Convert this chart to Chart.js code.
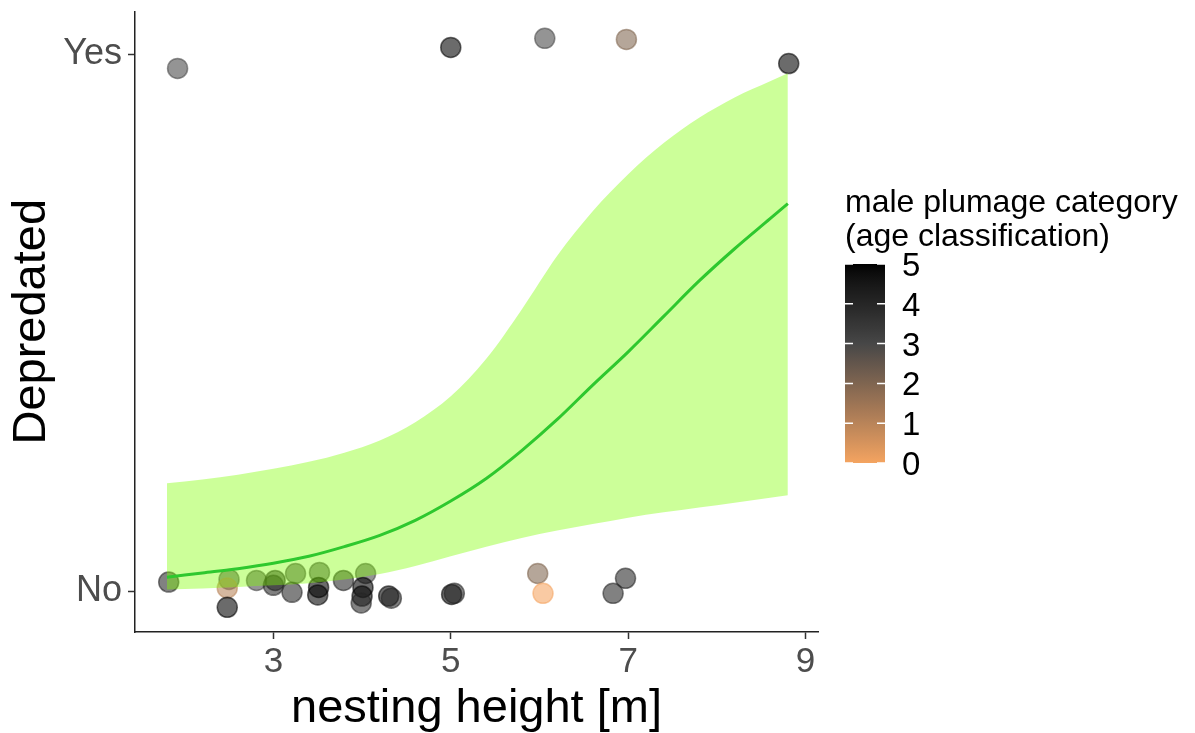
<!DOCTYPE html>
<html>
<head>
<meta charset="utf-8">
<script src="https://cdn.jsdelivr.net/npm/chart.js@4.4.1/dist/chart.umd.min.js"></script>
<style>
  html, body { margin: 0; padding: 0; background: #ffffff; }
  #wrap { width: 1195px; height: 733px; }
</style>
</head>
<body>
<div id="wrap"><canvas id="nestChart" width="1195" height="733"></canvas></div>
<script>
// fitted curve + ribbon
const heightGrid = [1.8, 2.2, 2.6, 3.0, 3.4, 3.8, 4.2, 4.6, 5.0, 5.4, 5.8, 6.2, 6.6, 7.0, 7.4, 7.8, 8.2, 8.6, 8.8];
const fitProb    = [0.026, 0.034, 0.042, 0.052, 0.065, 0.083, 0.104, 0.132, 0.168, 0.210, 0.262, 0.320, 0.384, 0.446, 0.512, 0.578, 0.638, 0.694, 0.722];
const upperProb  = [0.201, 0.208, 0.217, 0.228, 0.241, 0.258, 0.281, 0.315, 0.363, 0.433, 0.525, 0.625, 0.708, 0.777, 0.835, 0.882, 0.920, 0.950, 0.965];
const lowerProb  = [0.003, 0.005, 0.008, 0.011, 0.015, 0.022, 0.032, 0.047, 0.065, 0.083, 0.099, 0.113, 0.125, 0.137, 0.147, 0.156, 0.165, 0.174, 0.179];

// nests (jittered as in the picture)
const nestHeight = [1.82, 2.50, 2.48, 2.48, 2.81, 3.02, 3.00, 3.25, 3.21, 3.52, 3.51, 3.50, 3.79, 4.04, 4.01, 4.00, 3.99, 4.30, 4.33, 5.01, 5.04, 5.98, 6.04, 6.83, 6.97,
                    1.92, 5.00, 6.06, 6.98, 8.81];
const depredated = [0.017, 0.022, 0.006, -0.030, 0.020, 0.020, 0.011, 0.033, -0.002, 0.035, 0.007, -0.007, 0.020, 0.033, 0.007, -0.009, -0.022, -0.009, -0.013, -0.006, -0.004, 0.033, -0.004, -0.004, 0.024,
                    0.974, 1.013, 1.030, 1.028, 0.983];
const plumage    = [4, 3, 1, 5, 3, 4, 4, 3, 4, 3, 5, 5, 4, 3, 5, 5, 4, 5, 4, 5, 4, 2, 0, 4, 4,
                    3, 5, 3, 2, 5];

const xTicks = [3, 5, 7, 9];
const yTicks = [0, 1];
const yTickLabels = ['No', 'Yes'];
const legendTicks = [0, 1, 2, 3, 4, 5];
const legendTitle = ['male plumage category', '(age classification)'];
// colour ramp stops (value -> colour)
const rampValues = [0, 3, 5];
const rampColors = ['#F4A460', '#474747', '#000000'];

const FONT = '"Liberation Sans", Arial, sans-serif';

// interpolate the ramp in Lab like ggplot does
function srgbToLin(c) { c /= 255; return c <= 0.04045 ? c / 12.92 : Math.pow((c + 0.055) / 1.055, 2.4); }
function linToSrgb(c) { c = c <= 0.0031308 ? 12.92 * c : 1.055 * Math.pow(c, 1 / 2.4) - 0.055; return Math.round(Math.min(1, Math.max(0, c)) * 255); }
function hexToLab(hex) {
    let r = srgbToLin(parseInt(hex.slice(1, 3), 16));
    let g = srgbToLin(parseInt(hex.slice(3, 5), 16));
    let b = srgbToLin(parseInt(hex.slice(5, 7), 16));
    let X = (0.4124 * r + 0.3576 * g + 0.1805 * b) / 0.95047;
    let Y = (0.2126 * r + 0.7152 * g + 0.0722 * b);
    let Z = (0.0193 * r + 0.1192 * g + 0.9505 * b) / 1.08883;
    const f = t => t > 0.008856 ? Math.cbrt(t) : 7.787 * t + 16 / 116;
    return [116 * f(Y) - 16, 500 * (f(X) - f(Y)), 200 * (f(Y) - f(Z))];
}
function labToRgb(L, a, b) {
    let fy = (L + 16) / 116, fx = fy + a / 500, fz = fy - b / 200;
    const inv = t => t * t * t > 0.008856 ? t * t * t : (t - 16 / 116) / 7.787;
    let X = inv(fx) * 0.95047, Y = inv(fy), Z = inv(fz) * 1.08883;
    let r = 3.2406 * X - 1.5372 * Y - 0.4986 * Z;
    let g = -0.9689 * X + 1.8758 * Y + 0.0415 * Z;
    let bl = 0.0557 * X - 0.2040 * Y + 1.0570 * Z;
    return [linToSrgb(r), linToSrgb(g), linToSrgb(bl)];
}
const rampLab = rampColors.map(hexToLab);
function plumageColor(v, alpha) {
    let k = 0;
    while (k < rampValues.length - 2 && v > rampValues[k + 1]) k++;
    const t = (v - rampValues[k]) / (rampValues[k + 1] - rampValues[k]);
    const lab = rampLab[k].map((c, i) => c + (rampLab[k + 1][i] - c) * t);
    const rgb = labToRgb(lab[0], lab[1], lab[2]);
    return `rgba(${rgb[0]}, ${rgb[1]}, ${rgb[2]}, ${alpha})`;
}

const nestPoints = nestHeight.map((x, i) => ({ x: x, y: depredated[i] }));
const pointColors = plumage.map(v => plumageColor(v, 0.58));

// legend drawn next to the plot (ggplot colourbar)
const colorbarPlugin = {
    id: 'colorbar',
    afterDraw(chart) {
        const ctx = chart.ctx;
        const left = 845, top = 264, w = 40, h = 199;
        ctx.save();
        ctx.fillStyle = '#000000';
        ctx.font = '32px ' + FONT;
        ctx.textAlign = 'left';
        ctx.textBaseline = 'alphabetic';
        legendTitle.forEach((line, i) => ctx.fillText(line, left, 212 + i * 34));

        const grad = ctx.createLinearGradient(0, top + h, 0, top);
        for (let k = 0; k <= 25; k++) {
            grad.addColorStop(k / 25, plumageColor(5 * k / 25, 1));
        }
        ctx.fillStyle = grad;
        ctx.fillRect(left, top, w, h);

        ctx.strokeStyle = '#ffffff';
        ctx.lineWidth = 1.5;
        ctx.font = '33px ' + FONT;
        ctx.textBaseline = 'middle';
        legendTicks.forEach(v => {
            const y = top + h - v / 5 * h;
            ctx.beginPath();
            ctx.moveTo(left, y); ctx.lineTo(left + 8, y);
            ctx.moveTo(left + w - 8, y); ctx.lineTo(left + w, y);
            ctx.stroke();
            ctx.fillStyle = '#000000';
            ctx.fillText(String(v), 902, y + 3);
        });
        ctx.restore();
    }
};

Chart.defaults.font.family = FONT;
Chart.defaults.color = '#4d4d4d';

let context = document.getElementById('nestChart').getContext('2d');
window.nestChart = new Chart(context, {
    type: 'scatter',
    data: {
        datasets: [
            {
                label: 'nests',
                data: nestPoints,
                backgroundColor: pointColors,
                borderColor: pointColors,
                borderWidth: 1.5,
                pointRadius: 10,
                order: 3
            },
            {
                label: 'lower',
                type: 'line',
                data: heightGrid.map((x, i) => ({ x: x, y: lowerProb[i] })),
                borderWidth: 0,
                pointRadius: 0,
                fill: false,
                cubicInterpolationMode: 'monotone',
                order: 2
            },
            {
                label: 'upper',
                type: 'line',
                data: heightGrid.map((x, i) => ({ x: x, y: upperProb[i] })),
                borderWidth: 0,
                pointRadius: 0,
                backgroundColor: 'rgba(127, 255, 0, 0.4)',
                fill: '-1',
                cubicInterpolationMode: 'monotone',
                order: 2
            },
            {
                label: 'fit',
                type: 'line',
                data: heightGrid.map((x, i) => ({ x: x, y: fitProb[i] })),
                borderColor: '#2ec82e',
                borderWidth: 3,
                pointRadius: 0,
                fill: false,
                cubicInterpolationMode: 'monotone',
                order: 1
            }
        ]
    },
    options: {
        responsive: false,
        devicePixelRatio: 1,
        animation: false,
        layout: { padding: { top: 10, right: 377, left: 0, bottom: 0 } },
        plugins: {
            legend: { display: false },
            tooltip: { enabled: false }
        },
        scales: {
            x: {
                type: 'linear',
                min: 1.44,
                max: 9.14,
                afterFit: s => { s.height = 101; s.paddingLeft = 0; s.paddingRight = 0; },
                afterBuildTicks: s => { s.ticks = xTicks.map(v => ({ value: v })); },
                ticks: { font: { size: 35 }, color: '#4d4d4d', padding: 2 },
                grid: { drawOnChartArea: false, drawTicks: true, tickLength: 7, color: '#333333', tickWidth: 1.5 },
                border: { display: true, color: '#222222', width: 1.5 },
                title: { display: true, text: 'nesting height [m]', color: '#000000', font: { size: 47, lineHeight: 1 }, padding: { top: 0, bottom: 0 } }
            },
            y: {
                type: 'linear',
                min: -0.076,
                max: 1.08,
                afterFit: s => { s.width = 135; s.paddingTop = 0; s.paddingBottom = 0; },
                afterBuildTicks: s => { s.ticks = yTicks.map(v => ({ value: v })); },
                ticks: {
                    font: { size: 36 },
                    color: '#4d4d4d',
                    padding: 6,
                    callback: v => yTickLabels[yTicks.indexOf(v)]
                },
                grid: { drawOnChartArea: false, drawTicks: true, tickLength: 7, color: '#333333', tickWidth: 1.5 },
                border: { display: true, color: '#222222', width: 1.5 },
                title: { display: true, text: 'Depredated', color: '#000000', font: { size: 47, lineHeight: 1 }, padding: { top: 9, bottom: 0 } }
            }
        }
    },
    plugins: [colorbarPlugin]
});
</script>
</body>
</html>
